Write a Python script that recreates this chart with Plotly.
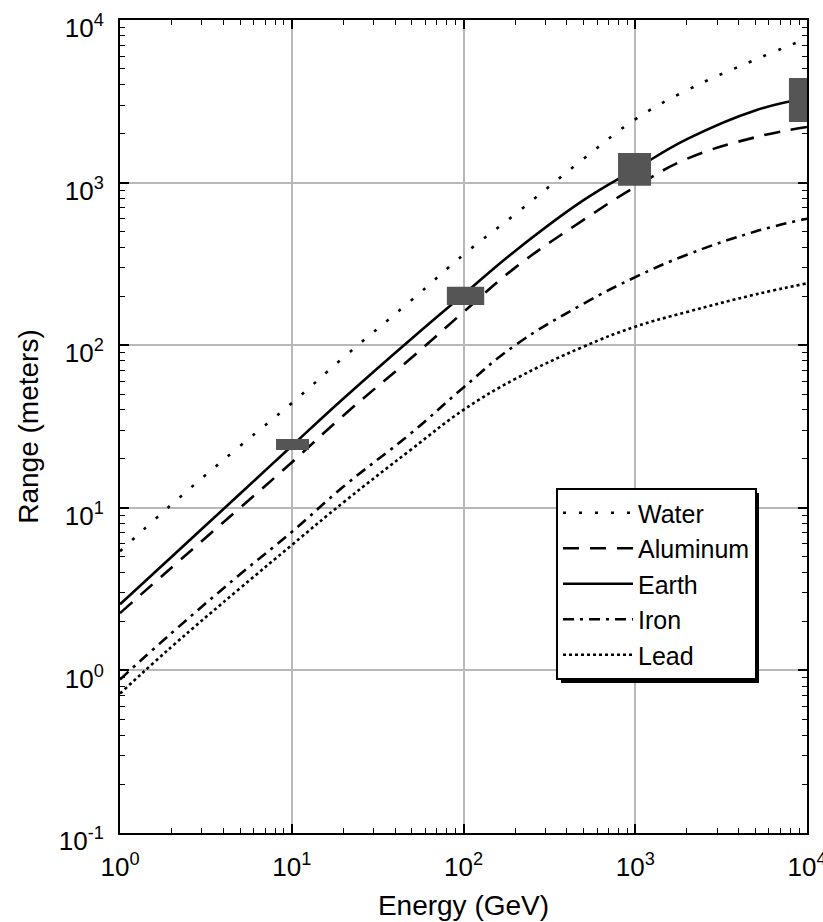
import plotly.graph_objects as go

# ---------------- data ----------------
energy = [1, 2, 5, 10, 20, 50, 100, 200, 500, 1000, 2000, 5000, 10000]
water = [5.4, 10.5, 24, 44, 84, 190, 360, 640, 1400, 2450, 3700, 5700, 7700]
aluminum = [2.25, 4.3, 10.0, 19.0, 37, 84, 160, 300, 590, 940, 1400, 1900, 2200]
earth = [2.55, 5.0, 12.2, 24, 47, 110, 205, 380, 780, 1210, 1850, 2780, 3300]
iron = [0.88, 1.7, 3.9, 7.1, 13.5, 29, 55, 100, 180, 262, 360, 500, 600]
lead = [0.72, 1.4, 3.2, 5.9, 10.8, 23, 40, 62, 98, 130, 160, 205, 240]

# measurement boxes (energy low/high, range low/high)
box_e_low = [8.1, 80, 794, 7850]
box_e_high = [12.6, 132, 1236, 12600]
box_r_low = [22.7, 177, 955, 2360]
box_r_high = [26.5, 229, 1523, 4400]

x_tickvals = [1, 10, 100, 1000, 10000]
x_ticktext = ["10<sup>0</sup>", "10<sup>1</sup>", "10<sup>2</sup>", "10<sup>3</sup>", "10<sup>4</sup>"]
y_tickvals = [0.1, 1, 10, 100, 1000, 10000]
y_ticktext = ["10<sup>-1</sup>", "10<sup>0</sup>", "10<sup>1</sup>", "10<sup>2</sup>", "10<sup>3</sup>", "10<sup>4</sup>"]

series = [
    ("Water", water, "3px,13px"),
    ("Aluminum", aluminum, "16px,11px"),
    ("Earth", earth, "solid"),
    ("Iron", iron, "11px,6px,3px,6px"),
    ("Lead", lead, "3px,3px"),
]

FONT = "Liberation Sans, Arial, sans-serif"

fig = go.Figure()
for name, vals, dash in series:
    fig.add_trace(go.Scatter(
        x=energy, y=vals, name=name, mode="lines",
        line=dict(color="black", width=2.6, dash=dash, shape="spline", smoothing=1.2),
    ))

for el, eh, rl, rh in zip(box_e_low, box_e_high, box_r_low, box_r_high):
    fig.add_shape(type="rect", xref="x", yref="y", x0=el, x1=eh, y0=rl, y1=rh,
                  fillcolor="#555555", line=dict(width=0), layer="above")

# legend shadow (paper coords)
L, T, W, H = 120, 20, 687, 813
def px2paper(px, py):
    return (px - L) / W, (T + H - py) / H
sx0, sy0 = px2paper(561, 493)
sx1, sy1 = px2paper(759, 683)
fig.add_shape(type="rect", xref="paper", yref="paper", x0=sx0, x1=sx1, y0=sy1, y1=sy0,
              fillcolor="black", line=dict(width=0), layer="above")

lx, ly = px2paper(556, 488)

axis_common = dict(
    type="log", automargin=False, ticklabeloverflow="allow",
    showline=True, linecolor="black", linewidth=2, mirror="allticks",
    ticks="inside", ticklen=9, tickwidth=1.5, tickcolor="black",
    showgrid=True, gridcolor="#b8b8b8", gridwidth=1.5,
    zeroline=False,
    tickfont=dict(family=FONT, size=26, color="black"),
    minor=dict(ticks="inside", ticklen=5, tickwidth=1.2, tickcolor="black", dtick="D1", showgrid=False),
)

fig.update_xaxes(**axis_common, range=[0, 4], tickmode="array",
                 tickvals=x_tickvals, ticktext=x_ticktext, ticklabelstandoff=10,
                 title=dict(text="Energy (GeV)", font=dict(family=FONT, size=28, color="black"), standoff=14))
fig.update_yaxes(**axis_common, range=[-1, 4], tickmode="array",
                 tickvals=y_tickvals, ticktext=y_ticktext, ticklabelstandoff=9, ticklabelshift=8,
                 title=dict(text="Range (meters)", font=dict(family=FONT, size=28, color="black"), standoff=12))

fig.update_layout(
    width=823, height=922,
    margin=dict(l=L, r=823 - L - W, t=T, b=922 - T - H, pad=0),
    paper_bgcolor="white", plot_bgcolor="white",
    font=dict(family=FONT, color="black"),
    legend=dict(x=lx, y=ly, xanchor="left", yanchor="top",
                bgcolor="white", bordercolor="black", borderwidth=2,
                font=dict(family=FONT, size=25, color="black"),
                itemwidth=70, tracegroupgap=0),
    showlegend=True,
)

fig.write_html("out.html")
